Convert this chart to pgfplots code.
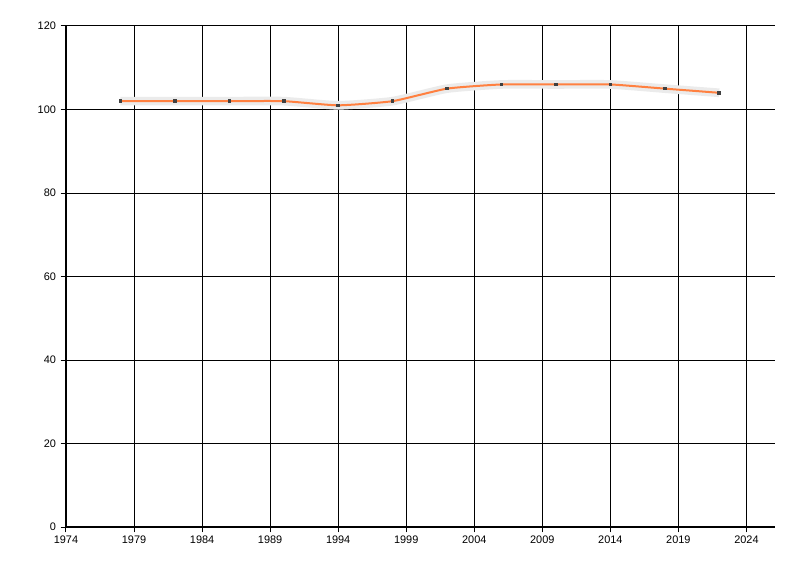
\documentclass[border=0pt]{standalone}
\usepackage{fontspec}
\setmainfont{Liberation Sans}
\usepackage{pgfplots}
\pgfplotsset{compat=1.18}
\definecolor{lineorange}{RGB}{255,128,64}
\definecolor{shadowgray}{RGB}{235,235,235}

\begin{document}
\begin{tikzpicture}[x=1pt,y=1pt]
\begin{axis}[
  scale only axis,
  width=531.75pt, height=375.75pt,
  xmin=1974, xmax=2026.1,
  ymin=0, ymax=120,
  xtick={1974,1979,...,2024},
  ytick={0,20,...,120},
  axis lines=left,
  axis line style={-, line width=0.8pt},
  grid=major,
  grid style={black, line width=0.75pt},
  tick style={black, line width=0.75pt},
  tick align=outside,
  major tick length=4pt,
  tick label style={font=\fontsize{8.2}{10}\selectfont},
  /pgf/number format/1000 sep={},
  /pgf/number format/assume math mode=true,
  xticklabel style={yshift=1pt},
  clip=false,
]
\addplot[shadowgray, line width=6.5pt, smooth, tension=0.3]
coordinates {
(1978,102) (1982,102) (1986,102) (1990,102) (1994,101) (1998,102)
(2002,105) (2006,106) (2010,106) (2014,106) (2018,105) (2022,104)
};
\addplot[lineorange, line width=1.5pt, smooth, tension=0.3,
  mark=square*, mark size=0.6pt, mark options={draw=black!75, fill=black!75}]
coordinates {
(1978,102) (1982,102) (1986,102) (1990,102) (1994,101) (1998,102)
(2002,105) (2006,106) (2010,106) (2014,106) (2018,105) (2022,104)
};
\end{axis}
\pgfresetboundingbox
\path[use as bounding box] (-49.5pt,-36.75pt) rectangle ++(600pt,432pt);
\end{tikzpicture}
\end{document}
